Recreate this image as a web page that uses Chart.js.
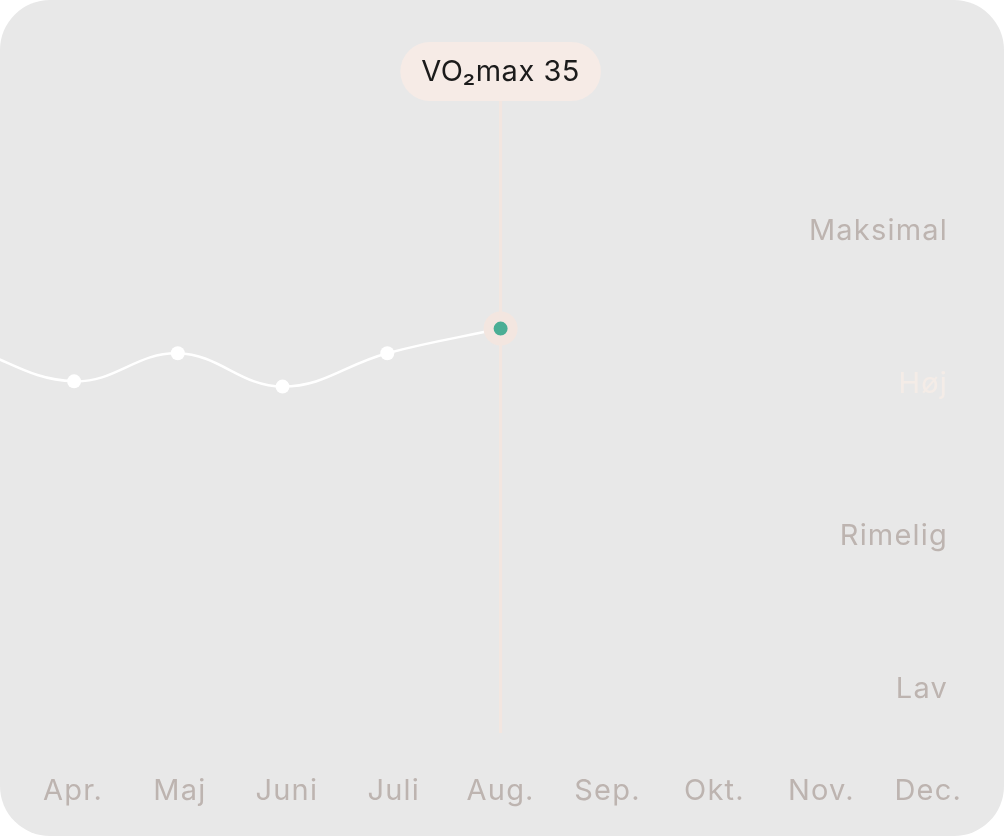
<!DOCTYPE html>
<html><head><meta charset="utf-8">
<script src="https://cdn.jsdelivr.net/npm/chart.js@4"></script>
<style>
html,body{margin:0;padding:0;background:#ffffff;}
#card{position:relative;width:1004px;height:836px;border-radius:50px;background:#e8e8e8;overflow:hidden;}
canvas{display:block;}
</style></head><body>
<div id="card"><canvas id="c" width="1004" height="836"></canvas></div>
<script>
// ---- data ----
const months = ['Apr.', 'Maj', 'Juni', 'Juli', 'Aug.', 'Sep.', 'Okt.', 'Nov.', 'Dec.'];
const pointMonth = [-1, 0.01, 0.98, 1.96, 2.94, 4.0]; // measurement dates (Mar. just left of view .. Aug.)
const vo2 = [34.0, 32.0, 33.6, 31.7, 33.6, 35];       // VO2max readings
const levels = ['Lav', 'Rimelig', 'Høj', 'Maksimal'];
const levelValues = [0, 1, 2, 3];
const currentLevel = 2;                                // Høj
const highlightIndex = 5;                              // Aug.
const tooltipLabel = 'VO\u2082max 35';

const FONT = 'Inter, "Liberation Sans", sans-serif';
const LABEL_COLOR = '#bdb4b0';
const PINK = '#f3e6e0';
const TEAL = '#4aae95';

const points = pointMonth.map((m, i) => ({ x: m, y: vo2[i] }));

const highlightPlugin = {
  id: 'highlight',
  beforeDraw(chart) {
    chart.ctx.letterSpacing = '1.2px';
  },
  beforeDatasetsDraw(chart) {
    const { ctx, chartArea, scales: { x } } = chart;
    const px = x.getPixelForValue(pointMonth[highlightIndex]);
    ctx.save();
    ctx.strokeStyle = PINK;
    ctx.lineWidth = 3;
    ctx.beginPath();
    ctx.moveTo(px, chartArea.top);
    ctx.lineTo(px, chartArea.bottom);
    ctx.stroke();
    ctx.restore();
  },
  afterDraw(chart) {
    const { ctx, chartArea, scales: { x } } = chart;
    const px = x.getPixelForValue(pointMonth[highlightIndex]);
    ctx.save();
    ctx.letterSpacing = '0.5px';
    ctx.font = '29px ' + FONT;
    const tw = ctx.measureText(tooltipLabel).width;
    const w = tw + 42, h = 59;
    const top = chartArea.top + 1 - h;
    ctx.fillStyle = '#f6ebe6';
    ctx.beginPath();
    ctx.roundRect(px - w / 2, top, w, h, h / 2);
    ctx.fill();
    ctx.fillStyle = '#1b1b1b';
    ctx.textAlign = 'center';
    ctx.textBaseline = 'middle';
    ctx.fillText(tooltipLabel, px, top + h / 2 + 1);
    ctx.restore();
  }
};

new Chart(document.getElementById('c'), {
  type: 'line',
  data: {
    datasets: [{
      data: points,
      borderColor: '#ffffff',
      borderWidth: 2.5,
      tension: 0.4,
      fill: false,
      pointRadius: c => c.dataIndex === highlightIndex ? 12 : 7,
      pointBorderWidth: c => c.dataIndex === highlightIndex ? 10 : 0,
      pointBorderColor: PINK,
      pointBackgroundColor: c => c.dataIndex === highlightIndex ? TEAL : '#ffffff',
      yAxisID: 'y'
    }]
  },
  options: {
    responsive: false,
    animation: false,
    events: [],
    layout: { autoPadding: false, padding: { left: 0, right: 56, top: 100, bottom: 28 } },
    plugins: { legend: { display: false }, tooltip: { enabled: false } },
    scales: {
      x: {
        type: 'linear',
        min: -0.683,
        max: 8.185,
        grid: { display: false, drawTicks: false },
        border: { display: false },
        afterBuildTicks: s => { s.ticks = months.map((_, i) => ({ value: i })); },
        afterFit: s => { s.height = 75; s.paddingLeft = 0; s.paddingRight = 0; s.paddingTop = 0; s.paddingBottom = 0; },
        ticks: {
          autoSkip: false,
          maxRotation: 0,
          padding: 41,
          color: LABEL_COLOR,
          font: { family: FONT, size: 29 },
          callback: v => months[v]
        }
      },
      y: {
        display: true,
        position: 'left',
        min: 12,
        max: 48,
        grid: { display: false, drawTicks: false },
        border: { display: false },
        ticks: { display: false },
        afterFit: s => { s.width = 0; s.paddingTop = 0; s.paddingBottom = 0; }
      },
      yl: {
        position: 'right',
        min: -0.286,
        max: 3.858,
        grid: { display: false, drawTicks: false },
        border: { display: false },
        afterBuildTicks: s => { s.ticks = levelValues.map(v => ({ value: v })); },
        afterFit: s => { s.width = 0; s.paddingTop = 0; s.paddingBottom = 0; },
        ticks: {
          mirror: true,
          padding: 0,
          color: c => c.tick && c.tick.value === currentLevel ? '#f4ece7' : LABEL_COLOR,
          font: { family: FONT, size: 29 },
          callback: v => levels[v]
        }
      }
    }
  },
  plugins: [highlightPlugin]
});
</script>
</body></html>
